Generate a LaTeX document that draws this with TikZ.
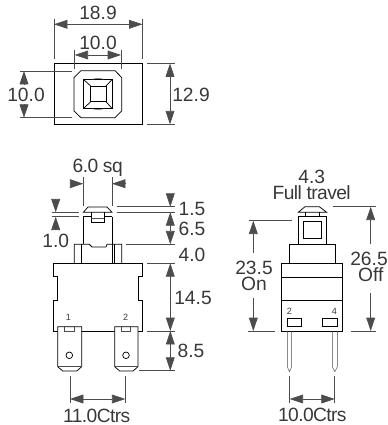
\documentclass[tikz,border=0pt]{standalone}
\usepackage{fontspec}
\setmainfont{Liberation Sans}
\usepackage{xcolor}
\usetikzlibrary{arrows.meta}
\definecolor{inkgray}{gray}{0.22}
\definecolor{leadgray}{gray}{0.3}
\tikzstyle{outline} = [draw=black, line width=0.55pt]
\tikzstyle{thin outline} = [draw=leadgray, line width=0.35pt]
\tikzstyle{leader} = [draw=leadgray, line width=0.45pt]
\tikzstyle{dimline} = [draw=leadgray, line width=0.5pt, -{Triangle[length=10pt,width=6.6pt]}]
\tikzstyle{dimboth} = [draw=leadgray, line width=0.5pt, {Triangle[length=10pt,width=6.6pt]}-{Triangle[length=10pt,width=6.6pt]}]
\tikzstyle{dimtext} = [inner sep=0pt, text=inkgray, font=\fontsize{14.4}{14.4}\selectfont]
\tikzstyle{tighttext} = [dimtext, font=\fontsize{14.4}{14.4}\selectfont\addfontfeature{LetterSpace=-3}]
\tikzstyle{pintext} = [inner sep=0pt, text=inkgray, font=\fontsize{6.8}{6.8}\selectfont]

\begin{document}
\begin{tikzpicture}[x=0.75pt, y=-0.75pt]
    \useasboundingbox (0,0) rectangle (387,425);

    % top view
    \draw [outline] (54,63.5) rectangle (142.5,124.3);
    \draw [outline, fill=white] (81,70.7) -- (115,70.7) -- (121.7,77.5) -- (121.7,111) -- (115,117.7) -- (81,117.7) -- (74,111) -- (74,77.5) -- cycle;
    \draw [outline] (83.3,79.3) rectangle (112.3,108.7);
    \draw [outline] (90.7,86) rectangle (106,101.7);
    \draw [outline] (83.3,79.3) -- (90.7,86) (112.3,79.3) -- (106,86) (83.3,108.7) -- (90.7,101.7) (112.3,108.7) -- (106,101.7);
    \draw [thin outline] (92,79.3) to [bend left=12] (104,79.3) (92,108.7) to [bend right=12] (104,108.7);

    \coordinate (wl) at (54,24.3);
    \coordinate (wr) at (142.5,24.3);
    \coordinate (sl) at (74.7,55);
    \coordinate (sr) at (121,55);
    \coordinate (hl) at (24,71);
    \coordinate (hr) at (24,117.7);
    \coordinate (tr) at (170,63.5);
    \coordinate (br) at (170,124.3);
    \draw [leader] (54,19) -- (54,59) (142.5,19) -- (142.5,59);
    \draw [leader] (74.7,50) -- (74.7,69) (121,50) -- (121,69);
    \draw [leader] (20,71) -- (72,71) (20,117.7) -- (72,117.7);
    \draw [leader] (147,63.5) -- (175,63.5) (147,124.3) -- (175,124.3);
    \draw [dimboth] (wl) -- (wr);
    \draw [dimboth] (sl) -- (sr);
    \draw [dimboth] (tr) -- (br);
    \draw [dimline] (24,85) -- (hl);
    \draw [dimline] (24,104) -- (hr);
    \node [dimtext] (topwidth) at (98,13) {18.9};
    \node [dimtext] (topsquare) at (98,43) {10.0};
    \node [dimtext] (topleft) at (26,94.7) {10.0};
    \node [dimtext] (topheight) at (191,94.5) {12.9};

    % side view
    \draw [outline] (83.3,212.3) -- (88,207) -- (107,207) -- (112,212.3) -- cycle;
    \draw [outline] (83.3,216.7) -- (91,216.7) (104,216.7) -- (112,216.7);
    \draw [outline] (91,212.3) -- (91,222) -- (104,222) -- (104,212.3);
    \draw [thin outline] (91,218) -- (104,218);
    \draw [outline] (83.3,216.7) -- (83.3,244.3) (112,216.7) -- (112,263.3);
    \draw [outline] (74.3,263.3) -- (74.3,244.3) -- (89.3,244.3) -- (92,247) -- (106,247) -- (107,244.3) -- (121.7,244.3) -- (121.7,263.3);
    \draw [outline] (81.7,244.3) -- (81.7,263.3) (114,244.3) -- (114,263.3);
    \draw [outline] (53.3,331) -- (53.3,300) -- (57.7,300) -- (57.7,276) -- (53.3,276) -- (53.3,263.3) -- (142.3,263.3) -- (142.3,276) -- (138,276) -- (138,300) -- (142.3,300) -- (142.3,331) -- cycle;

    \draw [outline, fill=white] (57.7,326.7) -- (81.7,326.7) -- (81.7,366.7) -- (76.7,371) -- (62.7,371) -- (57.7,366.7) -- cycle;
    \draw [outline, fill=white] (114.7,326.7) -- (138,326.7) -- (138,366.7) -- (133,371) -- (119.7,371) -- (114.7,366.7) -- cycle;
    \draw [thin outline] (57.7,366.7) -- (81.7,366.7) (114.7,366.7) -- (138,366.7);
    \draw [thin outline] (64.7,331) rectangle (74.3,326.7) (121.7,331) rectangle (130.7,326.7);
    \draw [outline] (69.3,355.3) circle (3.3) (126,355.3) circle (3.3);
    \node [pintext] (pinone) at (68.3,317.7) {1};
    \node [pintext] (pintwo) at (125.7,317.7) {2};

    \coordinate (capl) at (83.3,183.7);
    \coordinate (capr) at (112,183.7);
    \coordinate (captop) at (170.3,206.7);
    \coordinate (capbot) at (170.3,212.3);
    \coordinate (stepone) at (170.3,244.3);
    \coordinate (bodytop) at (170.3,263.3);
    \coordinate (bodybot) at (170.3,331);
    \coordinate (tabbot) at (170.3,370.7);
    \coordinate (gapt) at (55.7,212.3);
    \coordinate (gapb) at (55.7,216.7);
    \coordinate (ctrl) at (70,399);
    \coordinate (ctrr) at (125.3,399);
    \draw [leader] (83.3,177) -- (83.3,206) (112,177) -- (112,206);
    \draw [leader] (116.7,206.7) -- (175.3,206.7) (116.7,212.3) -- (175.3,212.3);
    \draw [leader] (125.7,244.3) -- (175.3,244.3) (147,263.3) -- (175.3,263.3);
    \draw [leader] (147,331) -- (175.3,331) (139,370.7) -- (175.3,370.7);
    \draw [leader] (51.7,212.3) -- (79,212.3) (51.7,216.7) -- (79,216.7);
    \draw [leader] (70,376) -- (70,403) (125.3,376) -- (125.3,403);
    \draw [dimline] (71,183.7) -- (capl);
    \draw [dimline] (125,183.7) -- (capr);
    \draw [dimline] (170.3,194) -- (captop);
    \draw [dimboth] (capbot) -- (stepone);
    \draw [dimboth] (bodytop) -- (bodybot);
    \draw [dimboth] (bodybot) -- (tabbot);
    \draw [dimline] (55.7,200) -- (gapt);
    \draw [dimline] (55.7,229.3) -- (gapb);
    \draw [dimboth] (ctrl) -- (ctrr);
    \node [tighttext] (capsquare) at (97.7,168) {6.0 sq};
    \node [dimtext] (captext) at (192,209) {1.5};
    \node [dimtext] (stemtext) at (192,228.7) {6.5};
    \node [dimtext] (gaptext) at (55.7,241) {1.0};
    \node [dimtext] (collartext) at (192,255) {4.0};
    \node [dimtext] (bodytext) at (193,297.7) {14.5};
    \node [dimtext] (tabtext) at (191,351) {8.5};
    \node [tighttext] (ctrtext) at (96.7,415.7) {11.0Ctrs};

    % end view
    \draw [outline] (298.3,212.3) -- (305,206.7) -- (319.3,206.7) -- (326.7,212.3) -- cycle;
    \draw [outline] (305,212.3) -- (305,216.7) (319.3,212.3) -- (319.3,216.7);
    \draw [outline] (298,216.7) rectangle (326,244);
    \draw [outline] (303,221) rectangle (321.7,238);
    \draw [outline] (289,244) rectangle (335.7,263.3);
    \draw [outline] (281.7,263.3) rectangle (342.3,331);
    \draw [outline] (281.7,277.3) -- (342.3,277.3) (281.7,300) -- (342.3,300);
    \draw [outline] (287.3,318.3) rectangle (301.7,326.7) (322.7,318.3) rectangle (337.3,326.7);
    \draw [thin outline] (287.3,331) -- (287.3,366.7) -- (289.5,371.7) -- (291.7,366.7) -- (291.7,331);
    \draw [thin outline] (332.3,331) -- (332.3,366.7) -- (334.8,371.7) -- (337.3,366.7) -- (337.3,331);
    \node [pintext] (endtwo) at (289.3,311) {2};
    \node [pintext] (endfour) at (334.3,311) {4};

    \coordinate (ontop) at (253.3,220.7);
    \coordinate (onbot) at (253.3,331);
    \coordinate (offtop) at (370.7,206.7);
    \coordinate (offbot) at (370.7,331);
    \coordinate (pinl) at (289.7,399);
    \coordinate (pinr) at (334.7,399);
    \draw [leader] (248.5,220.7) -- (292,220.7) (248,331) -- (274.7,331);
    \draw [leader] (332.7,206.7) -- (375.7,206.7) (350.7,331) -- (375.7,331);
    \draw [leader] (289.7,376) -- (289.7,403) (334.7,376) -- (334.7,403);
    \draw [dimline] (253.3,253) -- (ontop);
    \draw [dimline] (253.3,298) -- (onbot);
    \draw [dimline] (370.7,244) -- (offtop);
    \draw [dimline] (370.7,293) -- (offbot);
    \draw [dimboth] (pinl) -- (pinr);
    \node [dimtext] (traveltext) at (311.7,177) {4.3};
    \node [tighttext] (fulltext) at (311.7,193) {Full travel};
    \node [dimtext] (ontext) at (254,267.7) {23.5};
    \node [dimtext] (onlabel) at (254,284) {On};
    \node [dimtext] (offtext) at (369,259) {26.5};
    \node [dimtext] (offlabel) at (370.7,275) {Off};
    \node [tighttext] (pintext) at (312.3,415) {10.0Ctrs};
\end{tikzpicture}
\end{document}
